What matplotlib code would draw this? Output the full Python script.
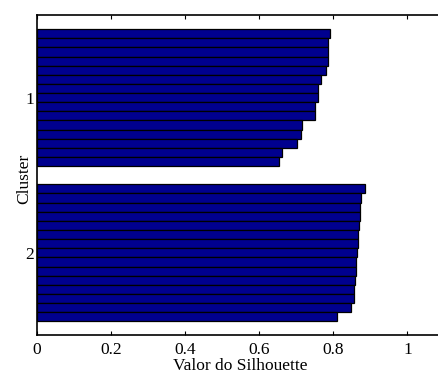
import numpy as np
import matplotlib
matplotlib.use("Agg")
import matplotlib.pyplot as plt

plt.rcParams['font.family'] = ['Liberation Serif', 'DejaVu Serif']

# silhouette values per cluster (sorted, as in the reference)
cluster_ids = [1, 2]
sil_c1 = [0.792, 0.786, 0.786, 0.786, 0.781, 0.767, 0.758, 0.758,
          0.750, 0.750, 0.715, 0.712, 0.702, 0.661, 0.653]
sil_c2 = [0.885, 0.874, 0.872, 0.872, 0.869, 0.868, 0.866, 0.863,
          0.861, 0.861, 0.858, 0.857, 0.855, 0.849, 0.811]
x_ticks = [0, 0.2, 0.4, 0.6, 0.8, 1]
x_ticklabels = ['0', '0.2', '0.4', '0.6', '0.8', '1']

fig = plt.figure(figsize=(4.38, 3.76), dpi=100)
ax = fig.add_axes([0.0838, 0.109, 0.931, 0.850])

# layout like MATLAB silhouette: gap of 2 rows around each cluster
space = 2
pos = 1 + space
centers = []
for vals in [sil_c1, sil_c2]:
    y = np.arange(pos, pos + len(vals))
    ax.barh(y, vals, height=1.0, color='#00008f', edgecolor='black', linewidth=0.9)
    centers.append(y.mean())
    pos += len(vals) + space

ax.set_ylim(pos - 1, 1)
ax.set_xlim(0, 1.1)
ax.set_yticks(centers)
ax.set_yticklabels([str(c) for c in cluster_ids])
ax.set_xticks(x_ticks)
ax.set_xticklabels(x_ticklabels)
ax.tick_params(axis='x', direction='in', length=3, top=True, labelsize=12.5, pad=5)
ax.tick_params(axis='y', direction='in', length=0, labelsize=12.5, pad=2)
for s in ['left', 'bottom', 'top']:
    ax.spines[s].set_linewidth(1.2)
ax.spines['right'].set_visible(False)

ax.set_xlabel('Valor do Silhouette', fontsize=12.5, labelpad=0)
ax.set_ylabel('Cluster', fontsize=12.5)
ax.yaxis.set_label_coords(-0.01, 0.49)

fig.savefig('out.png', dpi=100)
